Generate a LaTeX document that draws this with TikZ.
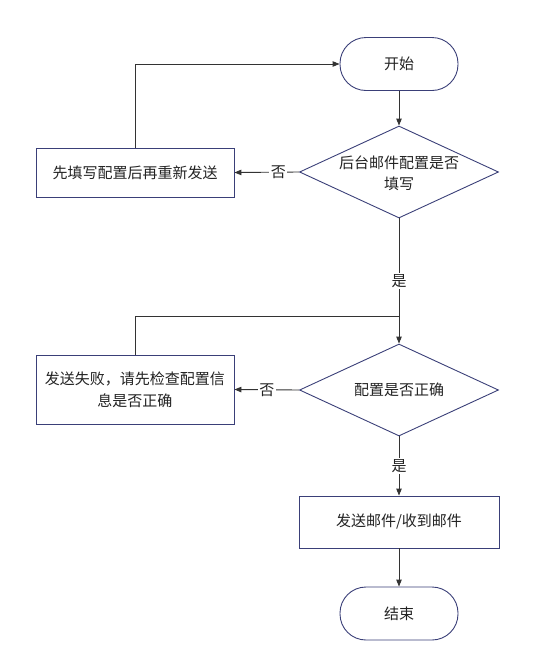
\documentclass[tikz,border=0pt]{standalone}
\usepackage{fontspec}
\setmainfont{Noto Sans CJK SC}
\usetikzlibrary{shapes.geometric,arrows.meta}
\definecolor{bd}{HTML}{3A3F78}
\definecolor{ln}{HTML}{333333}
\definecolor{tx}{HTML}{222222}
\begin{document}
\begin{tikzpicture}[x=1pt,y=-1pt,
 every node/.style={font=\fontsize{15}{21.5}\selectfont, text=tx},
 term/.style={draw=bd, line width=0.9pt, rounded corners=26pt, minimum width=118pt, minimum height=53pt, inner sep=0},
 proc/.style={draw=bd, line width=0.9pt, minimum width=198pt, inner sep=0, align=center},
 dec/.style={draw=bd, line width=0.9pt, diamond, minimum width=199pt, minimum height=92pt, inner sep=0},
 wire/.style={draw=ln, line width=0.9pt},
 conn/.style={wire, -{Triangle[length=7pt,width=5.5pt]}},
 lbl/.style={fill=white, inner sep=1.5pt}
]
\useasboundingbox (0,0) rectangle (534,670);
\node[term] (start) at (399,64) {开始};
\node[dec] (d1) at (399,172) {};
\node[align=center] (t1) at (399,173.5) {后台邮件配置是否\\填写};
\node[proc, minimum height=49pt] (b1) at (135,172.5) {先填写配置后再重新发送};
\node[dec] (d2) at (399,390) {};
\node (t2) at (399,390) {配置是否正确};
\node[proc, minimum height=69pt] (b2) at (135,389.5) {发送失败，请先检查配置信\\息是否正确};
\node[proc, minimum width=200pt, minimum height=52pt] (b3) at (399,522) {发送邮件/收到邮件};
\node[term] (end) at (399,613.5) {结束};
\coordinate (j2) at (399,316);

\draw[conn] (start.south) -- (d1.north);
\draw[conn] (d1.west) -- node[lbl, pos=0.32]{否} (b1.east);
\draw[conn] (b1.north) |- (start.west);
\draw[conn] (d1.south) -- node[lbl]{是} (d2.north);
\draw[wire] (b2.north) |- (j2);
\draw[conn] (d2.west) -- node[lbl]{否} (b2.east);
\draw[conn] (d2.south) -- node[lbl]{是} (b3.north);
\draw[conn] (b3.south) -- (end.north);
\end{tikzpicture}
\end{document}
